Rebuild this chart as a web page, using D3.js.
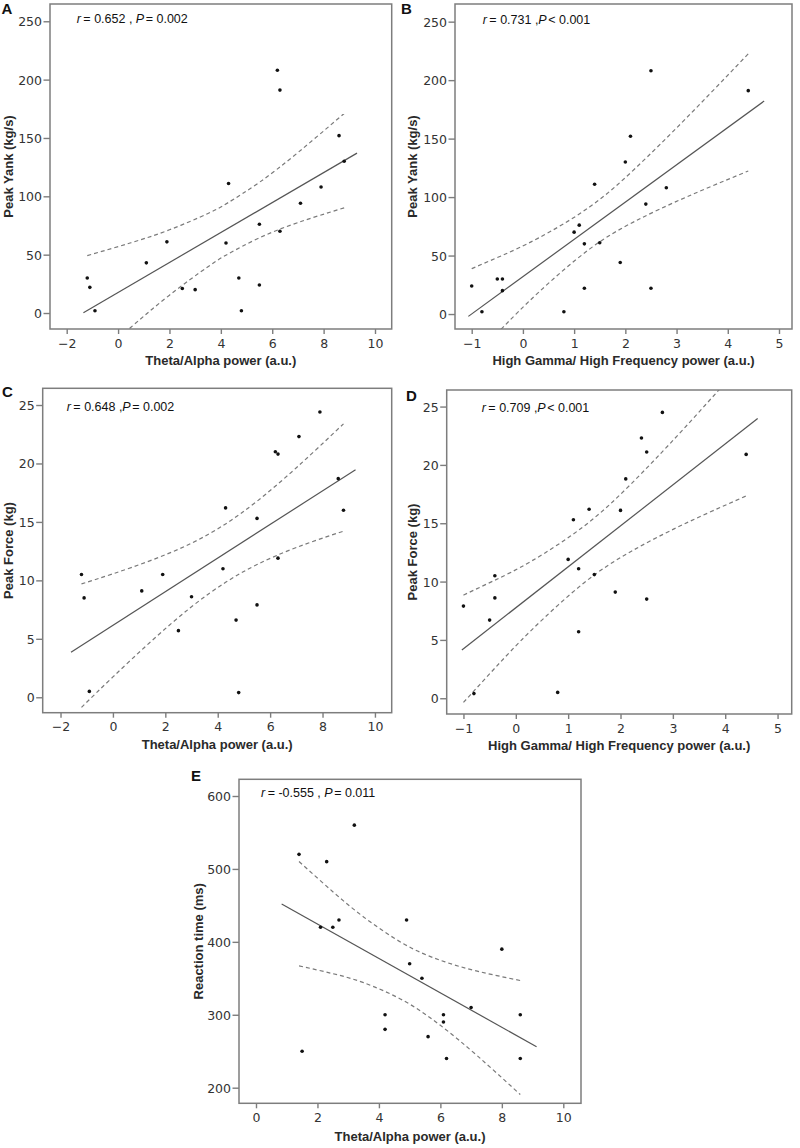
<!DOCTYPE html>
<html><head><meta charset="utf-8">
<script src="https://cdn.jsdelivr.net/npm/d3@7"></script>
<style>body{margin:0;background:#fff} svg{display:block}</style>
</head><body>
<svg id="chart" width="800" height="1148"></svg>
<script>
// ---------- tick labels ----------
const xTicksTheta = [-2, 0, 2, 4, 6, 8, 10];
const xTicksGamma = [-1, 0, 1, 2, 3, 4, 5];
const xTicksThetaE = [0, 2, 4, 6, 8, 10];
const yTicksYank = [0, 50, 100, 150, 200, 250];
const yTicksForce = [0, 5, 10, 15, 20, 25];
const yTicksRT = [200, 300, 400, 500, 600];

// ---------- A: Theta/Alpha vs Peak Yank ----------
const aX = [-1.2, -1.1, -0.9, 1.1, 1.9, 2.5, 3.0, 4.2, 4.3, 4.7, 4.8, 5.5, 5.5, 6.2, 6.3, 6.3, 7.1, 7.9, 8.6, 8.8];
const aY = [30, 22, 2, 43, 61, 21, 20, 60, 111, 30, 2, 76, 24, 208, 191, 70, 94, 108, 152, 130];
const aFitX = [-1.35, 9.3];
const aFitY = [0.3, 137];
const aBandX = [-1.2, 0.5, 2, 3.5, 4.3, 5.5, 7, 8.8];
const aBandHi = [49.2, 60.2, 71.3, 85.3, 94.8, 112, 137.5, 171];
const aBandLo = [-44.8, -12.2, 15.3, 39.7, 50.8, 64.4, 77.5, 90.1];

// ---------- B: High Gamma vs Peak Yank ----------
const bX = [-1.0, -0.8, -0.5, -0.4, -0.4, 0.8, 1.0, 1.1, 1.2, 1.2, 1.4, 1.5, 1.9, 2.0, 2.1, 2.4, 2.5, 2.5, 2.8, 4.4];
const bY = [24, 2, 30, 30, 20, 2, 70, 76, 60, 22, 111, 61, 44, 130, 152, 94, 208, 22, 108, 191];
const bFitX = [-1.065, 4.71];
const bFitY = [-2, 182.1];
const bBandX = [-1.0, -0.4, 0.3, 1.3, 2.2, 3.2, 4.4];
const bBandHi = [38.8, 50.2, 64.9, 91.5, 124.8, 168.0, 222.5];
const bBandLo = [-38.6, -11.8, 18.3, 55.5, 79.6, 100.2, 122.3];

// ---------- C: Theta/Alpha vs Peak Force ----------
const cX = [-1.2, -1.1, -0.9, 1.1, 1.9, 2.5, 3.0, 4.2, 4.3, 4.7, 4.8, 5.5, 5.5, 6.2, 6.3, 6.3, 7.1, 7.9, 8.6, 8.8];
const cY = [10.5, 8.5, 0.5, 9.1, 10.5, 5.7, 8.6, 11.0, 16.2, 6.6, 0.4, 15.3, 7.9, 21.0, 20.8, 11.9, 22.3, 24.4, 18.7, 16.0];
const cFitX = [-1.6, 9.26];
const cFitY = [3.85, 19.47];
const cBandX = [-1.2, 0, 1.5, 3, 4.3, 5.5, 7, 8.8];
const cBandHi = [9.70, 10.56, 11.75, 13.18, 14.83, 16.77, 19.63, 23.39];
const cBandLo = [-0.86, 1.74, 4.87, 7.74, 9.83, 11.35, 12.81, 14.21];

// ---------- D: High Gamma vs Peak Force ----------
const dX = [-1.0, -0.8, -0.5, -0.4, -0.4, 0.8, 1.0, 1.1, 1.2, 1.2, 1.4, 1.5, 1.9, 2.0, 2.1, 2.4, 2.5, 2.5, 2.8, 4.4];
const dY = [7.9, 0.4, 6.7, 10.5, 8.6, 0.5, 11.9, 15.3, 11.1, 5.7, 16.2, 10.6, 9.1, 16.1, 18.8, 22.3, 21.1, 8.5, 24.5, 20.9];
const dFitX = [-1.03, 4.62];
const dFitY = [4.14, 23.97];
const dBandX = [-1.0, -0.4, 0.3, 1.3, 2.2, 3.2, 4.4];
const dBandHi = [8.84, 10.12, 11.76, 14.74, 18.36, 23.06, 29.04];
const dBandLo = [-0.36, 2.58, 5.84, 9.88, 12.58, 14.90, 17.34];

// ---------- E: Theta/Alpha vs Reaction time ----------
const eX = [1.4, 1.5, 2.1, 2.3, 2.5, 2.7, 3.2, 4.2, 4.2, 4.9, 5.0, 5.4, 5.6, 6.1, 6.1, 6.2, 7.0, 8.0, 8.6, 8.6];
const eY = [520, 250, 420, 510, 420, 430, 560, 300, 280, 430, 370, 350, 270, 300, 290, 240, 310, 390, 300, 240];
const eFitX = [0.835, 9.13];
const eFitY = [451.9, 256.2];
const eBandX = [1.4, 2.5, 3.5, 4.8, 6, 7.2, 8.6];
const eBandHi = [510.1, 468.8, 434.2, 397.4, 374.7, 359.8, 347.0];
const eBandLo = [367.1, 356.4, 344.0, 319.4, 285.5, 243.8, 190.6];

// ---------- text ----------
const letters = ["A", "B", "C", "D", "E"];
const xTitles = ["Theta/Alpha power (a.u.)", "High Gamma/ High Frequency power (a.u.)",
                 "Theta/Alpha power (a.u.)", "High Gamma/ High Frequency power (a.u.)",
                 "Theta/Alpha power (a.u.)"];
const yTitles = ["Peak Yank (kg/s)", "Peak Yank (kg/s)", "Peak Force (kg)", "Peak Force (kg)", "Reaction time (ms)"];
const rTexts = ["= 0.652 , ", "= 0.731 ,", "= 0.648 ,", "= 0.709 ,", "= -0.555 , "];
const pTexts = ["= 0.002", "< 0.001", "= 0.002", "< 0.001", "= 0.011"];

// ---------- layout (positions, not data) ----------
const layout = [
  {frame:[50,4,391.7,329], xd:[-2.65,10.65], yd:[-13.7,264.8], letter:[1.5,13.5], stat:[76.7,23], yT:12.6, xTb:365},
  {frame:[455,4,792,329], xd:[-1.326,5.254], yd:[-12.8,265.1], letter:[401,13.5], stat:[482.7,23.5], yT:417, xTb:365},
  {frame:[42.7,388.3,391.7,712.7], xd:[-2.68,10.64], yd:[-1.32,26.43], letter:[2,396.5], stat:[66.7,410.7], yT:12.6, xTb:749},
  {frame:[446.7,390,791.7,714], xd:[-1.32,5.27], yd:[-1.35,26.42], letter:[406,401], stat:[481.7,412.3], yT:416.5, xTb:750},
  {frame:[239,779.3,581,1103.3], xd:[-0.553,10.576], yd:[178.6,622.9], letter:[191,781], stat:[261,796.7], yT:203, xTb:1141}
];

const panelData = [
  {x:aX, y:aY, fx:aFitX, fy:aFitY, bx:aBandX, hi:aBandHi, lo:aBandLo, xt:xTicksTheta, yt:yTicksYank},
  {x:bX, y:bY, fx:bFitX, fy:bFitY, bx:bBandX, hi:bBandHi, lo:bBandLo, xt:xTicksGamma, yt:yTicksYank},
  {x:cX, y:cY, fx:cFitX, fy:cFitY, bx:cBandX, hi:cBandHi, lo:cBandLo, xt:xTicksTheta, yt:yTicksForce},
  {x:dX, y:dY, fx:dFitX, fy:dFitY, bx:dBandX, hi:dBandHi, lo:dBandLo, xt:xTicksGamma, yt:yTicksForce},
  {x:eX, y:eY, fx:eFitX, fy:eFitY, bx:eBandX, hi:eBandHi, lo:eBandLo, xt:xTicksThetaE, yt:yTicksRT}
];

const svg = d3.select("#chart");
const FRAME = "#7d7d7d", TICKTXT = "#333";
const SANS = "'Liberation Sans', Arial, sans-serif";

panelData.forEach((pd, i) => {
  const L = layout[i];
  const [x0, y0, x1, y1] = L.frame;
  const xs = d3.scaleLinear().domain(L.xd).range([x0, x1]);
  const ys = d3.scaleLinear().domain(L.yd).range([y1, y0]);
  const g = svg.append("g");

  const clipId = "clip" + i;
  g.append("clipPath").attr("id", clipId).append("rect")
    .attr("x", x0).attr("y", y0).attr("width", x1 - x0).attr("height", y1 - y0);

  // axes (ticks + labels)
  const xAxis = d3.axisBottom(xs).tickValues(pd.xt).tickSize(5).tickPadding(3)
    .tickFormat(d => d < 0 ? "\u2212" + Math.abs(d) : String(d));
  const gx = g.append("g").attr("transform", `translate(0,${y1})`).call(xAxis);
  const yAxis = d3.axisLeft(ys).tickValues(pd.yt).tickSize(6.5).tickPadding(1.5);
  const gy = g.append("g").attr("transform", `translate(${x0},0)`).call(yAxis);
  [gx, gy].forEach(a => {
    a.select(".domain").remove();
    a.selectAll(".tick line").attr("stroke", FRAME).attr("stroke-width", 1.4);
    a.selectAll(".tick text").attr("fill", TICKTXT)
      .style("font-family", "'DejaVu Sans', sans-serif").style("font-size", "12.5px");
  });
  gx.selectAll(".tick text").attr("dy", null).attr("y", 18.5);
  gy.selectAll(".tick text").attr("x", -8).attr("dy", "0.36em");

  // frame
  g.append("rect").attr("x", x0).attr("y", y0).attr("width", x1 - x0).attr("height", y1 - y0)
    .attr("fill", "none").attr("stroke", FRAME).attr("stroke-width", 1.5);

  const plot = g.append("g").attr("clip-path", `url(#${clipId})`);
  const band = d3.line().x(d => xs(d[0])).y(d => ys(d[1])).curve(d3.curveNatural);
  [pd.hi, pd.lo].forEach(arr => {
    plot.append("path").datum(pd.bx.map((v, k) => [v, arr[k]]))
      .attr("d", band).attr("fill", "none").attr("stroke", "#7a7a7a")
      .attr("stroke-width", 1.2).attr("stroke-dasharray", "4,3");
  });
  plot.append("path").datum(pd.fx.map((v, k) => [v, pd.fy[k]]))
    .attr("d", d3.line().x(d => xs(d[0])).y(d => ys(d[1])))
    .attr("fill", "none").attr("stroke", "#555").attr("stroke-width", 1.2);

  plot.selectAll("circle").data(pd.x.map((v, k) => [v, pd.y[k]])).enter().append("circle")
    .attr("cx", d => xs(d[0])).attr("cy", d => ys(d[1])).attr("r", 1.8).attr("fill", "#111");

  // panel letter
  g.append("text").attr("x", L.letter[0]).attr("y", L.letter[1]).text(letters[i])
    .style("font-family", SANS).style("font-weight", "bold")
    .style("font-size", "15px").attr("fill", "#111");

  // statistic text: pieces laid out one after another, measured so they never overlap
  const pieces = [
    {t: "r", it: true, gap: 2.5},
    {t: rTexts[i], it: false, gap: 0},
    {t: "P", it: true, gap: 1.5},
    {t: pTexts[i], it: false, gap: 0}
  ];
  let cx = L.stat[0];
  pieces.forEach(p => {
    const tx = g.append("text").attr("x", cx).attr("y", L.stat[1]).text(p.t)
      .attr("xml:space", "preserve").style("white-space", "pre")
      .style("font-family", SANS).style("font-size", "12.5px")
      .style("font-style", p.it ? "italic" : "normal").attr("fill", "#111");
    cx += tx.node().getComputedTextLength() + p.gap;
  });

  // axis titles
  g.append("text").attr("x", (x0 + x1) / 2).attr("y", L.xTb).attr("text-anchor", "middle")
    .text(xTitles[i]).style("font-family", SANS)
    .style("font-weight", "bold").style("font-size", "13px").attr("fill", "#2a2a2a");
  g.append("text").attr("transform", `translate(${L.yT},${(y0 + y1) / 2}) rotate(-90)`)
    .attr("text-anchor", "middle").text(yTitles[i])
    .style("font-family", SANS)
    .style("font-weight", "bold").style("font-size", "13px").attr("fill", "#2a2a2a");
});
</script>
</body></html>
